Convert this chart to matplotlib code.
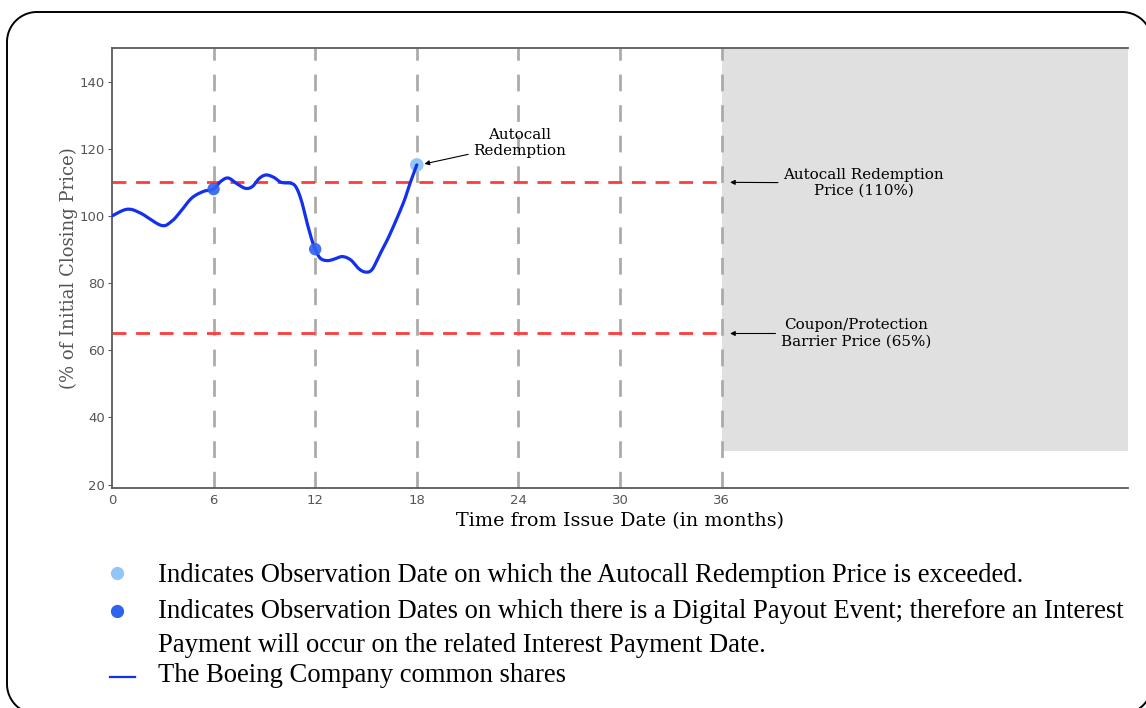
import matplotlib
matplotlib.use("Agg")
import matplotlib.pyplot as plt
from matplotlib.patches import Rectangle, PathPatch
from matplotlib.path import Path
from matplotlib.lines import Line2D
import numpy as np

# ---------------- data ----------------
months = [0, 0.9, 1.7, 2.9, 3.5, 4.05, 4.7, 5.4, 6.0, 6.4, 6.86, 7.4, 7.9, 8.3, 8.7,
          9.1, 9.55, 10.0, 10.6, 10.9, 11.2, 11.5, 11.8, 12.0, 12.3, 12.7, 13.1,
          13.6, 14.1, 14.55, 14.95, 15.35, 15.8, 16.4, 17.2, 17.6, 18.0]
price = [100, 102, 100.8, 97.2, 98.3, 101.3, 105.3, 107.3, 108.0, 110.2, 111.3,
         109.5, 108.2, 108.8, 111.2, 112.2, 111.5, 110.0, 109.7, 108.3, 104.3, 98.3,
         92.9, 90.1, 87.4, 86.7, 87.1, 87.9, 86.9, 84.4, 83.3, 84.0, 88.4, 94.4,
         103.8, 109.7, 115.2]

observation_months = [6, 12, 18, 24, 30, 36]
payout_months = [6, 12]
payout_values = [108.0, 90.1]
autocall_month = [18]
autocall_value = [115.2]

autocall_level = 110
barrier_level = 65
term_months = 36
shade_floor = 30

x_ticks = [0, 6, 12, 18, 24, 30, 36]
y_ticks = [20, 40, 60, 80, 100, 120, 140]
x_limits = (0, 60)
y_limits = (19, 150)

legend_texts = [
    "Indicates Observation Date on which the Autocall Redemption Price is exceeded.",
    "Indicates Observation Dates on which there is a Digital Payout Event; therefore an Interest",
    "Payment will occur on the related Interest Payment Date.",
    "The Boeing Company common shares",
]

# ---------------- colours ----------------
LINE_C = "#1330ee"
DARK_M = "#2f63ee"
LIGHT_M = "#92c5f8"
RED = "#ff3b3b"
GRID_G = "#ababab"
SHADE = "#e0e0e0"
SPINE = "#5a5a5a"


def smooth(xs, ys):
    """Catmull-Rom spline through the read points."""
    xs = np.asarray(xs, float); ys = np.asarray(ys, float)
    P = np.column_stack([xs, ys])
    P = np.vstack([P[0], P, P[-1]])
    px, py = [], []
    for i in range(1, len(P) - 2):
        p0, p1, p2, p3 = P[i - 1], P[i], P[i + 1], P[i + 2]
        t = np.linspace(0, 1, 20, endpoint=False)[:, None]
        pts = 0.5 * ((2 * p1) + (-p0 + p2) * t + (2 * p0 - 5 * p1 + 4 * p2 - p3) * t ** 2
                     + (-p0 + 3 * p1 - 3 * p2 + p3) * t ** 3)
        px.extend(pts[:, 0]); py.extend(pts[:, 1])
    px.append(xs[-1]); py.append(ys[-1])
    return np.array(px), np.array(py)


def rounded_rect(x0, y0, x1, y1, r, n=30):
    pts = []
    for cx, cy, a0 in [(x1 - r, y1 - r, 0), (x0 + r, y1 - r, 90),
                       (x0 + r, y0 + r, 180), (x1 - r, y0 + r, 270)]:
        a = np.radians(np.linspace(a0, a0 + 90, n))
        pts.extend(zip(cx + r * np.cos(a), cy + r * np.sin(a)))
    pts.append(pts[0])
    return Path(np.array(pts))


fig = plt.figure(figsize=(11.46, 7.08), dpi=100)

# rounded frame (inches; figure is 100 px per inch)
frame = PathPatch(rounded_rect(0.07, -0.06, 11.52, 6.96, 0.30),
                  transform=fig.dpi_scale_trans, fill=False,
                  edgecolor="black", linewidth=1.4, clip_on=False)
fig.add_artist(frame)

ax = fig.add_axes([112 / 1146, 1 - 488 / 708, (1128 - 112) / 1146, (488 - 48) / 708])
ax.set_xlim(*x_limits)
ax.set_ylim(*y_limits)

# shaded region after maturity
ax.add_patch(Rectangle((term_months, shade_floor), x_limits[1] - term_months,
                       y_limits[1] - shade_floor, facecolor=SHADE, edgecolor="none", zorder=0))

# observation date lines
for m in observation_months:
    ax.axvline(m, color=GRID_G, lw=2.0, dashes=(6, 5), zorder=1)

# level lines
ax.plot([0, term_months], [autocall_level, autocall_level], color=RED, lw=2.0,
        dashes=(5, 3.5), zorder=2)
ax.plot([0, term_months], [barrier_level, barrier_level], color=RED, lw=2.0,
        dashes=(5, 3.5), zorder=2)

# price path
sx, sy = smooth(months, price)
ax.plot(sx, sy, color=LINE_C, lw=2.3, zorder=4, solid_capstyle="round")

ax.scatter(payout_months, payout_values, s=80, color=DARK_M, alpha=0.9, zorder=5,
           edgecolors="none")
ax.scatter(autocall_month, autocall_value, s=95, color=LIGHT_M, zorder=3,
           edgecolors="none")

# axes styling
ax.spines["right"].set_visible(False)
for side in ["left", "bottom", "top"]:
    ax.spines[side].set_color(SPINE)
    ax.spines[side].set_linewidth(1.3)
ax.set_xticks(x_ticks)
ax.set_yticks(y_ticks)
ax.tick_params(axis="x", length=0, pad=4, labelsize=9.5, labelcolor="#555555")
ax.tick_params(axis="y", length=3, width=0.8, color=SPINE, pad=2, labelsize=9.5,
               labelcolor="#555555")
for lab in ax.get_xticklabels() + ax.get_yticklabels():
    lab.set_family("DejaVu Sans")

ax.set_xlabel("Time from Issue Date (in months)", family="DejaVu Serif", fontsize=13.8,
              color="black", labelpad=4)
ax.set_ylabel("(% of Initial Closing Price)", family="DejaVu Serif", fontsize=13,
              color="#555555", labelpad=1)

# annotations
arrow = dict(arrowstyle="-|>", color="black", lw=0.8, mutation_scale=7,
             shrinkA=2, shrinkB=0)
ann_kw = dict(ha="center", va="center", family="DejaVu Serif", fontsize=10.9,
              linespacing=1.2, arrowprops=arrow, zorder=6)
ax.annotate("Autocall\nRedemption", xy=(18.45, 115.5), xytext=(24.1, 121.7), **ann_kw)
ax.annotate("Autocall Redemption\nPrice (110%)", xy=(36.5, 110.0), xytext=(44.4, 109.8),
            **ann_kw)
ax.annotate("Coupon/Protection\nBarrier Price (65%)", xy=(36.5, 65.0), xytext=(43.95, 65.0),
            **ann_kw)

# custom legend below the chart
lx_mark = 117 / 1146
lx_text = 158 / 1146
ys = [1 - 575 / 708, 1 - 612 / 708, 1 - 645 / 708, 1 - 676 / 708]
fig.add_artist(Line2D([lx_mark], [1 - 573 / 708], marker="o", markersize=8.5,
                      color=LIGHT_M, linestyle="none", transform=fig.transFigure))
fig.add_artist(Line2D([lx_mark], [1 - 611 / 708], marker="o", markersize=8.5,
                      color=DARK_M, linestyle="none", transform=fig.transFigure))
fig.add_artist(Line2D([110 / 1146, 135 / 1146], [1 - 677 / 708, 1 - 677 / 708],
                      color=LINE_C, lw=1.6, transform=fig.transFigure))
for y, t in zip(ys, legend_texts):
    fig.text(lx_text, y, t, family="Liberation Serif", fontsize=19.2, va="center",
             ha="left", color="black")

fig.savefig("out.png", dpi=100)
